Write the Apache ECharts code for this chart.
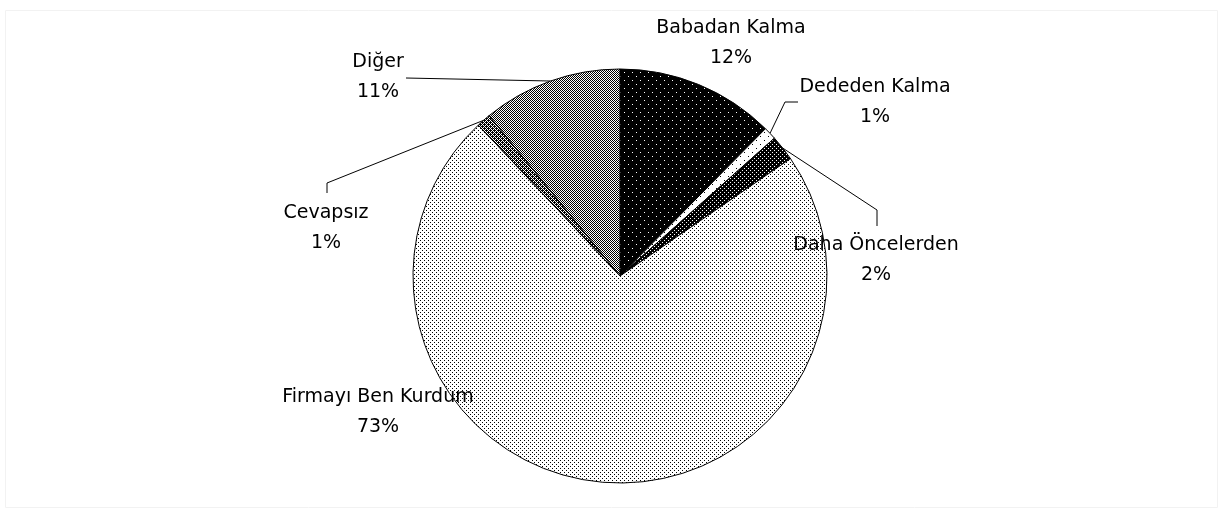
<!DOCTYPE html>
<html>
<head>
<meta charset="utf-8">
<script src="https://cdn.jsdelivr.net/npm/echarts@6/dist/echarts.min.js"></script>
<style>
  html, body { margin: 0; padding: 0; background: #fff; }
  #main { width: 1223px; height: 514px; }
</style>
</head>
<body>
<div id="main"></div>
<script>
// dilimler, saat 12'den saat yönünde
var categories = ['Babadan Kalma', 'Dededen Kalma', 'Daha Öncelerden', 'Firmayı Ben Kurdum', 'Cevapsız', 'Diğer'];
var values = [12.4, 1.0, 2.0, 72.6, 1.1, 10.9];

// etiket konumları (metin bloğunun ortası) ve kılavuz çizgisinin köşe noktaları
var labelPos = [[731, 43], [875, 102], [876, 260], [378, 412], [326, 228], [378, 77]];
var linePoints = [null, [[785, 102], [798, 102]], [[877, 210], [877, 226]], null, [[327, 183], [327, 193]], [[406, 78]]];

// küçük piksel desenleri (Excel tarzı tarama)
function makePattern(rows, fg, bg) {
  var c = document.createElement('canvas');
  c.width = rows[0].length;
  c.height = rows.length;
  var ctx = c.getContext('2d');
  ctx.fillStyle = bg;
  ctx.fillRect(0, 0, c.width, c.height);
  ctx.fillStyle = fg;
  for (var y = 0; y < rows.length; y++) {
    for (var x = 0; x < rows[y].length; x++) {
      if (rows[y][x] === '1') ctx.fillRect(x, y, 1, 1);
    }
  }
  return { image: c, repeat: 'repeat' };
}

var patterns = [
  makePattern(['10000000', '00000000', '00000000', '00000000', '00001000', '00000000', '00000000', '00000000'], '#fff', '#000'),
  makePattern(['10000000', '00000000', '00000000', '00000000', '00001000', '00000000', '00000000', '00000000'], '#000', '#fff'),
  makePattern(['1000', '0000', '0010', '0000'], '#fff', '#000'),
  makePattern(['1000', '0000', '0010', '0000'], '#000', '#fff'),
  makePattern(['1101', '1010', '0111', '1010'], '#000', '#fff'),
  makePattern(['1010', '0101', '1010', '0101'], '#000', '#fff')
];

var myChart = echarts.init(document.getElementById('main'));

var seriesData = categories.map(function (name, i) {
  return {
    name: name,
    value: values[i],
    itemStyle: { color: patterns[i] },
    labelLine: { show: linePoints[i] !== null }
  };
});

var option = {
  backgroundColor: '#fff',
  animation: false,
  graphic: [{
    type: 'rect',
    shape: { x: 5.5, y: 10.5, width: 1212, height: 497 },
    style: { fill: 'none', stroke: '#f2f2f2', lineWidth: 1 },
    silent: true
  }],
  series: [{
    type: 'pie',
    center: [620, 276],
    radius: 207,
    startAngle: 90,
    clockwise: true,
    percentPrecision: 0,
    avoidLabelOverlap: false,
    data: seriesData,
    itemStyle: { borderColor: '#000', borderWidth: 1 },
    label: {
      show: true,
      position: 'outside',
      formatter: '{b}\n{d}%',
      fontFamily: 'DejaVu Sans',
      fontSize: 19,
      lineHeight: 30,
      color: '#000',
      align: 'center'
    },
    labelLine: {
      show: true,
      lineStyle: { color: '#000', width: 1 }
    },
    labelLayout: function (params) {
      var i = params.dataIndex;
      var res = {
        x: labelPos[i][0],
        y: labelPos[i][1],
        align: 'center',
        verticalAlign: 'middle'
      };
      if (linePoints[i] && params.labelLinePoints) {
        res.labelLinePoints = [params.labelLinePoints[0]].concat(linePoints[i]);
      }
      return res;
    }
  }]
};

option && myChart.setOption(option);
</script>
</body>
</html>
